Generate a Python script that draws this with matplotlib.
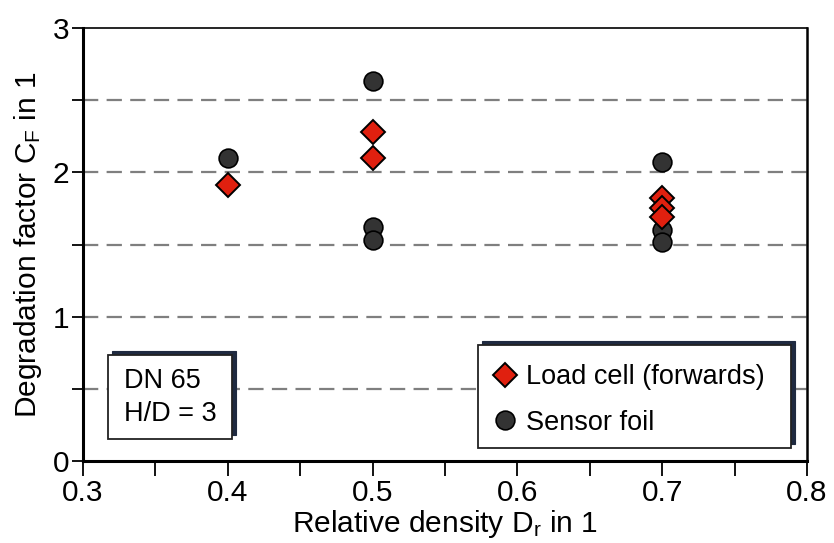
import matplotlib
matplotlib.use("Agg")
import matplotlib.pyplot as plt
from matplotlib.patches import Rectangle
from matplotlib.lines import Line2D

plt.rcParams['font.family'] = ['Liberation Sans', 'DejaVu Sans']
plt.rcParams['mathtext.default'] = 'regular'
plt.rcParams['lines.scale_dashes'] = False

# Data
load_x = [0.4, 0.5, 0.5, 0.7, 0.7, 0.7]
load_y = [1.91, 2.28, 2.10, 1.82, 1.75, 1.69]
foil_x = [0.4, 0.5, 0.5, 0.5, 0.7, 0.7, 0.7]
foil_y = [2.10, 2.63, 1.62, 1.53, 2.07, 1.60, 1.52]
grid_levels = [0.5, 1.0, 1.5, 2.0, 2.5]
xticks = [0.3, 0.4, 0.5, 0.6, 0.7, 0.8]
yticks = [0, 1, 2, 3]
box_lines = ["DN 65", "H/D = 3"]
legend_labels = ["Load cell (forwards)", "Sensor foil"]

W, H = 834, 543
fig = plt.figure(figsize=(W / 100, H / 100), dpi=100)
ax = fig.add_axes([83 / W, 1 - 461 / H, (807 - 83) / W, (461 - 28) / H])
ax.set_xlim(0.3, 0.8)
ax.set_ylim(0, 3)

for g in grid_levels:
    ax.axhline(g, color='#7f7f7f', lw=1.6, dashes=(11, 6), zorder=1)

red = '#e0200f'
dark = '#333333'
ax.plot(foil_x, foil_y, 'o', ms=13.5, mfc=dark, mec='black', mew=1.2, ls='none', zorder=3)
ax.plot(load_x, load_y, 'D', ms=12, mfc=red, mec='black', mew=1.4, ls='none', zorder=4)

ax.set_xticks(xticks)
ax.set_xticklabels([f"{v:.1f}" for v in xticks])
ax.set_xticks([0.35, 0.45, 0.55, 0.65, 0.75], minor=True)
ax.set_yticks(yticks)
ax.set_yticks([0.5, 1.5, 2.5], minor=True)
ax.tick_params(axis='x', which='both', direction='out', length=11, width=1.3, labelsize=21.5, pad=2)
ax.tick_params(axis='y', which='both', direction='out', length=8, width=1.3, labelsize=21.5, pad=2)

ax.spines['left'].set_linewidth(2.2)
ax.spines['bottom'].set_linewidth(2.2)
ax.spines['top'].set_linewidth(1.2)
ax.spines['right'].set_linewidth(1.8)

ax.set_xlabel("Relative density D$_r$ in 1", fontsize=21.5, labelpad=1)
ax.set_ylabel("Degradation factor C$_F$ in 1", fontsize=21.5, labelpad=6)

def px_rect(x0, y0, x1, y1, **kw):
    r = Rectangle((x0 / W, 1 - y1 / H), (x1 - x0) / W, (y1 - y0) / H,
                  transform=fig.transFigure, **kw)
    fig.patches.append(r)

shadow = '#1f2a40'
# DN box
px_rect(112, 351, 236, 435, facecolor=shadow, edgecolor=shadow, lw=0.8, zorder=5)
px_rect(108, 355, 232, 439, facecolor='white', edgecolor='#222222', lw=1.3, zorder=6)
fig.text(124 / W, 1 - 381 / H, box_lines[0], fontsize=19.5, va='center', ha='left', zorder=7)
fig.text(124 / W, 1 - 414 / H, box_lines[1], fontsize=19.5, va='center', ha='left', zorder=7)

# Legend box
px_rect(482, 341, 795, 444, facecolor=shadow, edgecolor=shadow, lw=0.8, zorder=5)
px_rect(478, 345, 791, 448, facecolor='white', edgecolor='#222222', lw=1.3, zorder=6)
handles = [Line2D([], [], marker='D', ms=12, mfc=red, mec='black', mew=1.4, ls='none'),
           Line2D([], [], marker='o', ms=13.5, mfc=dark, mec='black', mew=1.2, ls='none')]
leg = fig.legend(handles, legend_labels, loc='upper left', bbox_to_anchor=(494 / W, 1 - 364 / H),
                 frameon=False, fontsize=19.5, handlelength=0.8, handletextpad=0.4,
                 labelspacing=0.72, borderpad=0, borderaxespad=0)
leg.set_zorder(8)

fig.savefig("out.png", dpi=100)
